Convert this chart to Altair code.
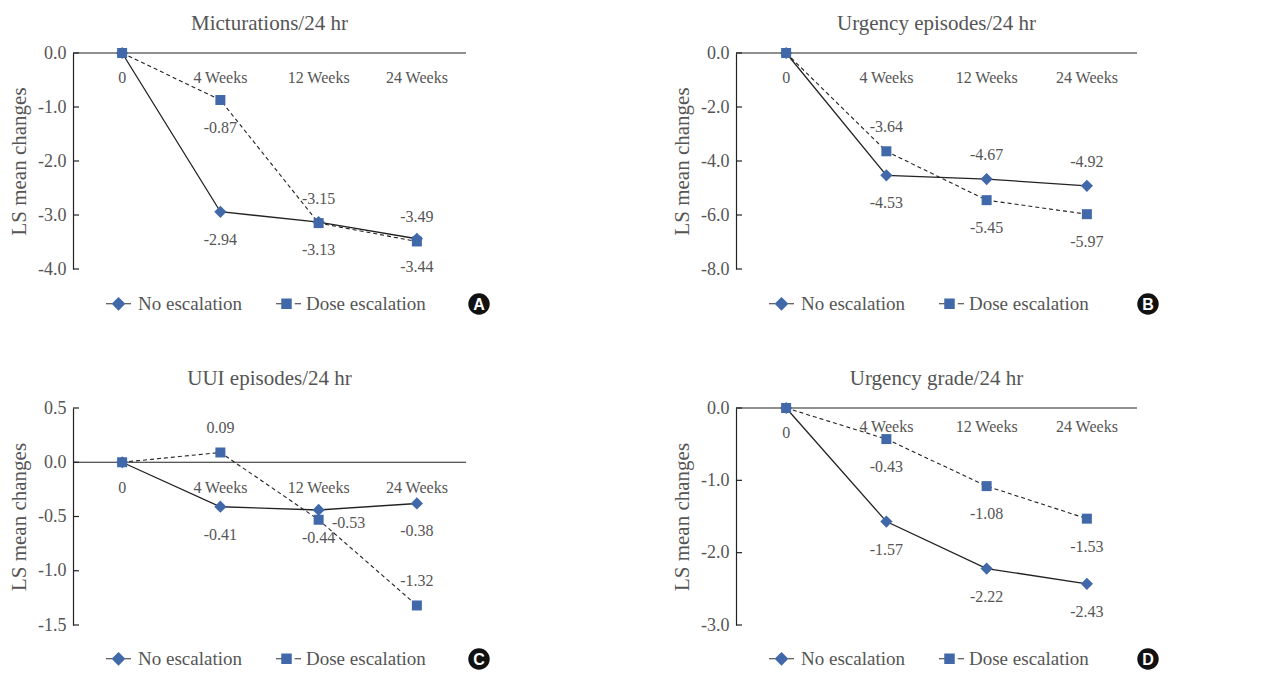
import altair as alt
import pandas as pd

weeks = ["0", "4 Weeks", "12 Weeks", "24 Weeks"]
series_names = ["No escalation", "Dose escalation"]
titles = ["Micturations/24 hr", "Urgency episodes/24 hr", "UUI episodes/24 hr", "Urgency grade/24 hr"]
letters = ["A", "B", "C", "D"]

no_esc = [
    [0, -2.94, -3.13, -3.44],
    [0, -4.53, -4.67, -4.92],
    [0, -0.41, -0.44, -0.38],
    [0, -1.57, -2.22, -2.43],
]
dose_esc = [
    [0, -0.87, -3.15, -3.49],
    [0, -3.64, -5.45, -5.97],
    [0, 0.09, -0.53, -1.32],
    [0, -0.43, -1.08, -1.53],
]
# where each value label sits relative to its marker
no_pos = [
    ["none", "below", "below", "below"],
    ["none", "below", "above", "above"],
    ["none", "below", "below", "below"],
    ["none", "below", "below", "below"],
]
dose_pos = [
    ["none", "below", "above", "above"],
    ["none", "above", "below", "below"],
    ["none", "above", "right", "above"],
    ["none", "below", "below", "below"],
]
y_domains = [[-4, 0], [-8, 0], [-1.5, 0.5], [-3, 0]]
y_ticks = [
    [0, -1, -2, -3, -4],
    [0, -2, -4, -6, -8],
    [0.5, 0, -0.5, -1, -1.5],
    [0, -1, -2, -3],
]

FONT = "Liberation Serif"
GREY = "#555555"
DARK = "#222222"
BLUE = "#4169aa"

panel_w = [393, 401, 393, 401]
panel_h = [216, 216, 217, 217]
xlab_dy_zero = [25, 25, 26, 25]
xlab_dy_weeks = [25, 25, 26, 19]
circle_x = [406, 412, 406, 412]

line_path = "M-1,0L-0.5,0M0.5,0L1,0"
diamond_path = "M0,-0.55L0.55,0L0,0.55L-0.55,0Z"
square_path = "M-0.42,-0.42L0.42,-0.42L0.42,0.42L-0.42,0.42Z"


def legend_props(**extra):
    return alt.Legend(
        orient="none",
        legendX=32,
        legendY=237,
        direction="horizontal",
        labelFont=FONT,
        labelFontSize=19,
        labelColor=GREY,
        symbolSize=625,
        columnPadding=31,
        labelOffset=6,
        **extra,
    )


def panel(i):
    rows = []
    for j, w in enumerate(weeks):
        rows.append({"week": w, "series": series_names[0], "value": no_esc[i][j],
                     "label": f"{no_esc[i][j]:.2f}", "pos": no_pos[i][j]})
    for j, w in enumerate(weeks):
        rows.append({"week": w, "series": series_names[1], "value": dose_esc[i][j],
                     "label": f"{dose_esc[i][j]:.2f}", "pos": dose_pos[i][j]})
    df = pd.DataFrame(rows)

    xs = alt.X("week:N", sort=weeks, scale=alt.Scale(type="point", domain=weeks, padding=0.5), axis=None)
    ys = alt.Y(
        "value:Q",
        scale=alt.Scale(domain=y_domains[i], nice=False, zero=False),
        axis=alt.Axis(
            values=y_ticks[i],
            title="LS mean changes",
            labelExpr="(datum.value < 0 ? '-' : '') + format(abs(datum.value), '.1f')",
            tickSize=0,
            grid=False,
            labelPadding=7,
            titlePadding=8,
            labelFont=FONT,
            labelFontSize=18,
            labelColor=GREY,
            titleFont=FONT,
            titleFontSize=21,
            titleColor=GREY,
            titleFontWeight="normal",
            domainColor=DARK,
            domainWidth=1.2,
        ),
    )

    base = alt.Chart(df)
    zero = alt.Chart(pd.DataFrame({"value": [0]})).mark_rule(color=DARK, strokeWidth=1.2).encode(y=ys)
    ticks = alt.Chart(pd.DataFrame({"value": y_ticks[i]})).mark_rule(color=DARK, strokeWidth=1.2).encode(
        y=ys, x=alt.value(0), x2=alt.value(6)
    )
    line_no = base.transform_filter(alt.datum.series == series_names[0]).mark_line(
        color=DARK, strokeWidth=1.3).encode(x=xs, y=ys)
    line_dose = base.transform_filter(alt.datum.series == series_names[1]).mark_line(
        color=DARK, strokeWidth=1.1, strokeDash=[4, 3]).encode(x=xs, y=ys)
    pts_no = base.transform_filter(alt.datum.series == series_names[0]).mark_point(
        shape="diamond", filled=True, color=BLUE, size=150, opacity=1).encode(x=xs, y=ys)
    pts_dose = base.transform_filter(alt.datum.series == series_names[1]).mark_point(
        shape="square", filled=True, color=BLUE, size=100, opacity=1).encode(x=xs, y=ys)

    def labels(pos, dx, dy):
        return base.transform_filter(alt.datum.pos == pos).mark_text(
            font=FONT, fontSize=16, color=GREY, dx=dx, dy=dy, baseline="middle", align="center"
        ).encode(x=xs, y=ys, text="label:N")

    lab_below = labels("below", 0, 28)
    lab_above = labels("above", 0, -24)
    lab_right = labels("right", 30, 3)

    wk = pd.DataFrame({"week": weeks, "value": [0, 0, 0, 0]})
    xlab0 = alt.Chart(wk).transform_filter(alt.datum.week == "0").mark_text(
        font=FONT, fontSize=16, color=GREY, dy=xlab_dy_zero[i], baseline="middle"
    ).encode(x=xs, y=ys, text="week:N")
    xlabw = alt.Chart(wk).transform_filter(alt.datum.week != "0").mark_text(
        font=FONT, fontSize=16, color=GREY, dy=xlab_dy_weeks[i], baseline="middle"
    ).encode(x=xs, y=ys, text="week:N")

    sdf = pd.DataFrame({"series": series_names})
    # legend part 1: connecting line segments (dark strokes), labels hidden
    legend_lines = alt.Chart(sdf).transform_filter("false").mark_point(
        filled=False, shape=line_path, strokeWidth=1.2, opacity=1
    ).encode(
        color=alt.Color(
            "series:N",
            scale=alt.Scale(domain=series_names, range=["#333333", "#333333"]),
            title=None,
            legend=legend_props(symbolType=line_path, symbolStrokeWidth=1.2, symbolOpacity=1,
                                labelOpacity=0),
        )
    )
    # legend part 2: filled markers with labels
    legend_marks = alt.Chart(sdf).transform_filter("false").mark_point(
        filled=True, color=BLUE, opacity=1
    ).encode(
        shape=alt.Shape(
            "series:N",
            scale=alt.Scale(domain=series_names, range=[diamond_path, square_path]),
            title=None,
            legend=legend_props(symbolFillColor=BLUE, symbolOpacity=1),
        )
    )

    lt = pd.DataFrame({"letter": [letters[i]]})
    circ = alt.Chart(lt).mark_circle(color="#111111", size=460, opacity=1).encode(
        x=alt.value(circle_x[i]), y=alt.value(251))
    circ_t = alt.Chart(lt).mark_text(font="Liberation Sans", fontWeight="bold", fontSize=16, color="white",
                                     baseline="middle", align="center", dy=1).encode(
        x=alt.value(circle_x[i]), y=alt.value(251), text="letter:N")

    return alt.layer(
        zero, ticks, line_no, line_dose, pts_no, pts_dose, lab_below, lab_above, lab_right,
        xlab0, xlabw, legend_lines, legend_marks, circ, circ_t
    ).resolve_legend(color="independent", shape="independent").properties(
        width=panel_w[i], height=panel_h[i],
        title=alt.TitleParams(titles[i], font=FONT, fontSize=21, color=GREY, fontWeight="normal", offset=10),
    )


chart = alt.concat(
    *[panel(i) for i in range(4)], columns=2, spacing={"row": 139, "column": 270}, bounds="flush"
).resolve_scale(
    x="independent", y="independent", shape="independent", color="independent"
).resolve_legend(
    shape="independent", color="independent"
).properties(
    padding={"left": 0, "top": 5, "right": 5, "bottom": 0}
).configure(font=FONT).configure_view(stroke=None).configure_axis(
    labelFont=FONT, labelFontSize=18, labelColor=GREY,
    titleFont=FONT, titleFontSize=21, titleColor=GREY, titleFontWeight="normal",
    domainColor=DARK, domainWidth=1.2,
)

chart.save("out.html", embed_options={"renderer": "svg", "actions": False})
